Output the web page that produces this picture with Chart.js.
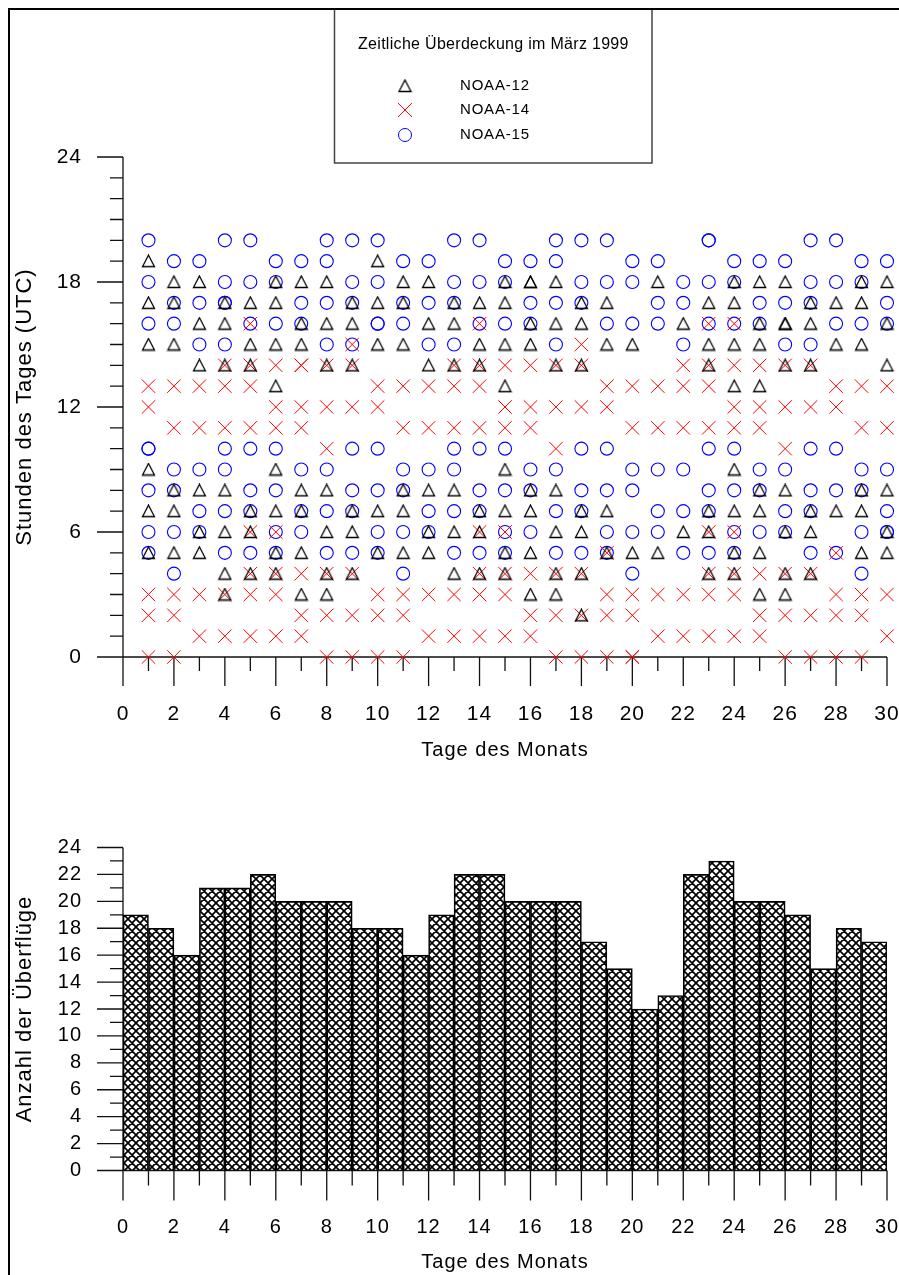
<!DOCTYPE html>
<html>
<head>
<meta charset="utf-8">
<title>Zeitliche Überdeckung im März 1999</title>
<script src="https://cdn.jsdelivr.net/npm/chart.js@4/dist/chart.umd.min.js"></script>
<style>
  html, body { margin: 0; padding: 0; background: #fff; }
  body { width: 899px; height: 1275px; position: relative; overflow: hidden; }
  #passChart { position: absolute; left: 0; top: 0; }
  #countChart { position: absolute; left: 0; top: 775px; }
  .frame-top { position: absolute; left: 8px; top: 8px; width: 891px; height: 2px; background: #000; }
  .frame-left { position: absolute; left: 8px; top: 8px; width: 2px; height: 1267px; background: #000; }
</style>
</head>
<body>
<canvas id="passChart" width="899" height="775"></canvas>
<canvas id="countChart" width="899" height="500"></canvas>
<div class="frame-top"></div>
<div class="frame-left"></div>
<script>
// Tage des Monats (März 1999)
const days = [1, 2, 3, 4, 5, 6, 7, 8, 9, 10, 11, 12, 13, 14, 15,
              16, 17, 18, 19, 20, 21, 22, 23, 24, 25, 26, 27, 28, 29, 30];

// Überflugzeiten (Stunde UTC) je Tag, pro Satellit
const noaa12Hours = [
  [19, 17, 15, 9, 7, 5], [18, 17, 15, 8, 7, 5], [18, 16, 14, 8, 6, 5],
  [17, 16, 14, 8, 6, 4, 3], [17, 15, 14, 7, 6, 4], [18, 17, 15, 13, 9, 7, 5, 4],
  [18, 16, 15, 8, 7, 5, 3], [18, 16, 14, 8, 6, 4, 3], [17, 16, 14, 7, 6, 4],
  [19, 17, 15, 7, 5], [18, 17, 15, 8, 7, 5], [18, 16, 14, 8, 6, 5],
  [17, 16, 14, 8, 6, 4], [17, 15, 14, 7, 6, 4], [18, 17, 15, 13, 9, 7, 5, 4],
  [18, 18, 16, 15, 8, 7, 5, 3], [18, 16, 14, 8, 6, 4, 3], [17, 16, 14, 7, 6, 4, 2],
  [17, 15, 7, 5], [15, 5], [18, 5],
  [16, 6], [17, 15, 14, 7, 6, 4], [18, 17, 15, 13, 9, 7, 5, 4],
  [18, 16, 15, 13, 8, 7, 5, 3], [18, 16, 16, 14, 8, 6, 4, 3], [17, 16, 14, 7, 6, 4],
  [17, 15, 7], [18, 17, 15, 8, 7, 5], [18, 16, 14, 8, 6, 5]
];
const noaa14Hours = [
  [13, 12, 3, 2, 0], [13, 11, 3, 2, 0], [13, 11, 3, 1],
  [14, 13, 11, 3, 1], [16, 14, 13, 11, 6, 4, 3, 1], [14, 12, 11, 6, 4, 3, 1],
  [14, 14, 12, 11, 4, 2, 1], [14, 12, 10, 4, 2, 0], [15, 14, 12, 4, 2, 0],
  [13, 12, 3, 2, 0], [13, 11, 3, 2, 0], [13, 11, 3, 1],
  [14, 13, 11, 3, 1], [16, 14, 13, 11, 6, 4, 3, 3, 1], [14, 12, 11, 6, 4, 3, 1],
  [14, 12, 11, 4, 2, 1], [14, 12, 10, 4, 2, 0], [15, 14, 12, 4, 2, 0],
  [13, 12, 5, 3, 2, 0], [13, 11, 3, 2, 0, 0], [13, 11, 3, 1],
  [14, 13, 11, 3, 1], [16, 14, 13, 11, 6, 4, 3, 1], [16, 14, 12, 11, 6, 4, 3, 1],
  [14, 12, 11, 4, 2, 1], [14, 12, 10, 4, 2, 0], [14, 12, 4, 2, 0],
  [13, 12, 5, 3, 2, 0], [13, 11, 3, 2, 0], [13, 11, 3, 1]
];
const noaa15Hours = [
  [20, 18, 16, 10, 10, 8, 6, 5], [19, 17, 16, 9, 8, 6, 4], [19, 17, 15, 9, 7, 6],
  [20, 18, 17, 17, 15, 10, 9, 7, 5], [20, 18, 16, 10, 8, 7, 5], [19, 18, 16, 10, 8, 6, 5],
  [19, 17, 16, 9, 7, 6], [20, 19, 17, 15, 9, 7, 5], [20, 18, 17, 15, 10, 8, 7, 5],
  [20, 18, 16, 16, 10, 8, 6, 5], [19, 17, 16, 9, 8, 6, 4], [19, 17, 15, 9, 7, 6],
  [20, 18, 17, 15, 10, 9, 7, 5], [20, 18, 16, 10, 8, 7, 5], [19, 18, 16, 10, 8, 6, 5],
  [19, 17, 16, 9, 8, 6], [20, 19, 17, 15, 9, 7, 5], [20, 18, 17, 10, 8, 7, 5],
  [20, 18, 16, 10, 8, 6, 5], [19, 18, 16, 9, 8, 6, 4], [19, 17, 16, 9, 7, 6],
  [18, 17, 15, 9, 7, 5], [20, 20, 18, 16, 10, 8, 7, 5], [19, 18, 16, 10, 8, 6, 5],
  [19, 17, 16, 9, 8, 6], [19, 17, 15, 9, 7, 6], [20, 18, 17, 15, 10, 8, 7, 5],
  [20, 18, 16, 10, 8, 5], [19, 18, 16, 9, 8, 6, 4], [19, 17, 16, 9, 7, 6, 6]
];

// Anzahl der Überflüge je Tag
const passCounts = [19, 18, 16, 21, 21, 22, 20, 20, 20, 18, 18, 16, 19, 22, 22,
                    20, 20, 20, 17, 15, 12, 13, 22, 23, 20, 20, 19, 15, 18, 17];

// Achsenbeschriftungen
const dayTicks = [0, 2, 4, 6, 8, 10, 12, 14, 16, 18, 20, 22, 24, 26, 28, 30];
const hourTicks = [0, 6, 12, 18, 24];
const countTicks = [0, 2, 4, 6, 8, 10, 12, 14, 16, 18, 20, 22, 24];

const FONT = "'Liberation Sans', Arial, sans-serif";

function toPoints(hoursByDay) {
  return hoursByDay.flatMap((hours, i) => hours.map(h => ({ x: days[i], y: h })));
}

// triangle marker, centred on its bounding box
function triangleMarker(size, color) {
  const c = document.createElement('canvas');
  c.width = size + 2; c.height = size + 1;
  const g = c.getContext('2d');
  g.strokeStyle = color; g.lineWidth = 1.3;
  g.beginPath();
  g.moveTo(c.width / 2, 1);
  g.lineTo(size + 0.5, size - 0.5);
  g.lineTo(1.5, size - 0.5);
  g.closePath();
  g.stroke();
  return c;
}

function crossHatch(step) {
  const c = document.createElement('canvas');
  c.width = c.height = step;
  const g = c.getContext('2d');
  g.strokeStyle = '#000'; g.lineWidth = 1.7;
  g.beginPath();
  for (const o of [-step, 0, step]) {
    g.moveTo(o, 0); g.lineTo(o + step, step);
    g.moveTo(o, step); g.lineTo(o + step, 0);
  }
  g.stroke();
  return g.createPattern(c, 'repeat');
}

const triImg = triangleMarker(13, '#000');

const spacedText = {
  id: 'spacedText',
  beforeLayout(chart) { chart.ctx.letterSpacing = '1px'; },
  beforeDraw(chart) { chart.ctx.letterSpacing = '1px'; }
};

// fixes the plot area: ticks padding must not widen the side margins
const fixX = h => s => { s.height = h; s.paddingLeft = 0; s.paddingRight = 0; };
const fixY = w => s => { s.width = w; s.paddingTop = 0; s.paddingBottom = 0; };

// axis lines and tick marks in the style of the original plot
const axisMarks = {
  id: 'axisMarks',
  beforeDatasetsDraw(chart, args, o) {
    const { ctx, scales: { x, y } } = chart;
    const x0 = x.getPixelForValue(x.min), y0 = y.getPixelForValue(y.min);
    ctx.save();
    ctx.strokeStyle = '#111';
    ctx.lineWidth = 1.3;
    ctx.beginPath();
    ctx.moveTo(x0, y.getPixelForValue(y.max));
    ctx.lineTo(x0, y0);
    ctx.moveTo(x0 - o.yMajorLen, y0);
    ctx.lineTo(x.getPixelForValue(x.max), y0);
    for (let v = y.min; v <= y.max; v += 1) {
      const py = y.getPixelForValue(v);
      const len = v % o.yMajor === 0 ? o.yMajorLen : o.yMinorLen;
      ctx.moveTo(x0 - len, py); ctx.lineTo(x0, py);
    }
    for (let v = x.min; v <= x.max; v += 1) {
      const px = x.getPixelForValue(v);
      const len = v % 2 === 0 ? o.xMajorLen : o.xMinorLen;
      ctx.moveTo(px, y0); ctx.lineTo(px, y0 + len);
    }
    ctx.stroke();
    ctx.restore();
  }
};

const satLegend = {
  id: 'satLegend',
  afterDraw(chart) {
    const ctx = chart.ctx;
    const sets = chart.data.datasets;
    ctx.save();
    ctx.strokeStyle = '#444';
    ctx.lineWidth = 1.5;
    ctx.strokeRect(334.5, 9, 317.5, 154);
    ctx.fillStyle = '#000';
    ctx.textBaseline = 'middle';
    ctx.textAlign = 'left';
    ctx.letterSpacing = '0.3px';
    ctx.font = '16px ' + FONT;
    ctx.fillText('Zeitliche Überdeckung im März 1999', 358, 45);
    ctx.letterSpacing = '0.8px';
    ctx.font = '15px ' + FONT;
    const rows = [86, 110, 135];
    sets.forEach((ds, i) => {
      const cy = rows[i], cx = 405;
      ctx.strokeStyle = ds.pointBorderColor;
      ctx.lineWidth = 1;
      ctx.beginPath();
      if (i === 0) {
        ctx.drawImage(triImg, cx - triImg.width / 2, cy - triImg.height / 2);
      } else if (i === 1) {
        ctx.moveTo(cx - 7, cy - 7); ctx.lineTo(cx + 7, cy + 7);
        ctx.moveTo(cx + 7, cy - 7); ctx.lineTo(cx - 7, cy + 7);
      } else {
        ctx.arc(cx, cy, 6.5, 0, Math.PI * 2);
      }
      ctx.stroke();
      ctx.fillText(ds.label, 460, cy);
    });
    ctx.restore();
  }
};

const tickFont = size => ({ family: FONT, size: size });

// Oberes Diagramm: Überflugzeiten
new Chart(document.getElementById('passChart'), {
  type: 'scatter',
  data: {
    datasets: [
      {
        label: 'NOAA-12',
        data: toPoints(noaa12Hours),
        pointStyle: triImg,
        pointRadius: 7,
        pointBorderColor: '#000',
        clip: false
      },
      {
        label: 'NOAA-14',
        data: toPoints(noaa14Hours),
        pointStyle: 'crossRot',
        pointRadius: 9.5,
        pointBorderColor: '#ff0000',
        pointBorderWidth: 1,
        clip: false
      },
      {
        label: 'NOAA-15',
        data: toPoints(noaa15Hours),
        pointStyle: 'circle',
        pointRadius: 6.5,
        pointBorderColor: '#0000ff',
        pointBackgroundColor: 'rgba(0,0,0,0)',
        pointBorderWidth: 1.1,
        clip: false
      }
    ]
  },
  options: {
    responsive: false,
    animation: false,
    events: [],
    layout: { padding: { left: 0, top: 157, right: 12, bottom: 0 } },
    plugins: {
      legend: { display: false },
      tooltip: { enabled: false },
      axisMarks: { yMajor: 6, yMajorLen: 26, yMinorLen: 13, xMajorLen: 29, xMinorLen: 14 }
    },
    scales: {
      x: {
        type: 'linear', min: 0, max: 30,
        afterFit: fixX(118),
        afterBuildTicks: s => { s.ticks = dayTicks.map(v => ({ value: v })); },
        grid: { display: false, drawTicks: false },
        border: { display: false },
        ticks: { padding: 45, color: '#000', font: tickFont(21), maxRotation: 0, autoSkip: false },
        title: { display: true, text: 'Tage des Monats', color: '#000', font: tickFont(20), padding: { top: 0, bottom: 13 } }
      },
      y: {
        type: 'linear', min: 0, max: 24,
        afterFit: fixY(123),
        afterBuildTicks: s => { s.ticks = hourTicks.map(v => ({ value: v })); },
        grid: { display: false, drawTicks: false },
        border: { display: false },
        ticks: { padding: 41, color: '#000', font: tickFont(21), autoSkip: false },
        title: { display: true, text: 'Stunden des Tages (UTC)', color: '#000', font: tickFont(22), padding: { top: 12, bottom: 0 } }
      }
    }
  },
  plugins: [spacedText, axisMarks, satLegend]
});

// Unteres Diagramm: Anzahl der Überflüge
new Chart(document.getElementById('countChart'), {
  type: 'bar',
  data: {
    datasets: [{
      label: 'Anzahl der Überflüge',
      data: days.map((d, i) => ({ x: d - 0.5, y: passCounts[i] })),
      backgroundColor: crossHatch(8),
      borderColor: '#000',
      borderWidth: 1,
      borderSkipped: 'start',
      barPercentage: 1,
      categoryPercentage: 1
    }]
  },
  options: {
    responsive: false,
    animation: false,
    events: [],
    layout: { padding: { left: 0, top: 72.5, right: 12, bottom: 0 } },
    plugins: {
      legend: { display: false },
      tooltip: { enabled: false },
      axisMarks: { yMajor: 2, yMajorLen: 26, yMinorLen: 13, xMajorLen: 30, xMinorLen: 15 }
    },
    scales: {
      x: {
        type: 'linear', min: 0, max: 30, offset: false,
        afterFit: fixX(104.5),
        afterBuildTicks: s => { s.ticks = dayTicks.map(v => ({ value: v })); },
        grid: { display: false, drawTicks: false, offset: false },
        border: { display: false },
        ticks: { padding: 45, color: '#000', font: tickFont(20), maxRotation: 0, autoSkip: false },
        title: { display: true, text: 'Tage des Monats', color: '#000', font: tickFont(20), padding: { top: 0, bottom: 1 } }
      },
      y: {
        type: 'linear', min: 0, max: 24,
        afterFit: fixY(123),
        afterBuildTicks: s => { s.ticks = countTicks.map(v => ({ value: v })); },
        grid: { display: false, drawTicks: false },
        border: { display: false },
        ticks: { padding: 41, color: '#000', font: tickFont(20), autoSkip: false },
        title: { display: true, text: 'Anzahl der Überflüge', color: '#000', font: tickFont(22), padding: { top: 12, bottom: 0 } }
      }
    }
  },
  plugins: [spacedText, axisMarks]
});
</script>
</body>
</html>
